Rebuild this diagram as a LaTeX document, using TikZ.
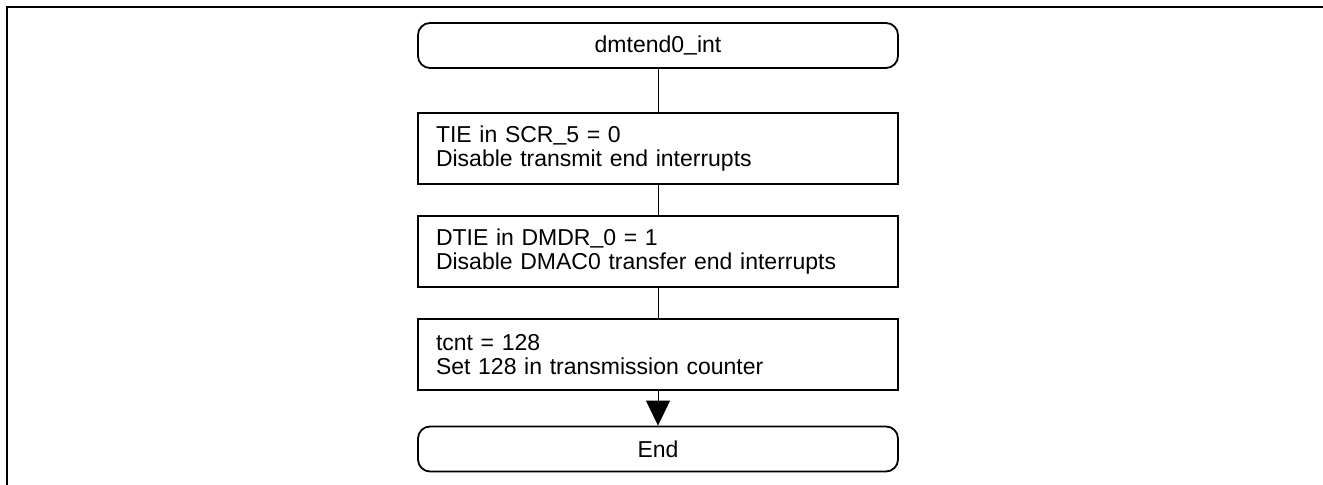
\documentclass[tikz,border=0pt]{standalone}
\usepackage{fontspec}
\setmainfont{Liberation Sans}
\usetikzlibrary{arrows.meta}
\newcommand{\us}{\raisebox{0.12em}{\_}}
\begin{document}
\begin{tikzpicture}[x=0.5pt,y=-0.5pt,
  term/.style={draw,line width=0.9pt,rounded corners=6pt,minimum width=240pt,
    minimum height=22.5pt,font=\fontsize{11.5}{11.5}\selectfont},
  proc/.style={draw,line width=0.9pt,minimum width=240pt,minimum height=35.5pt,
    text width=222pt,inner xsep=9pt,align=left,font=\fontsize{11.5}{11.6}\selectfont},
  link/.style={line width=0.5pt}]
\pgfmathsetmacro{\xc}{658}
\useasboundingbox (0,0) rectangle (1323,485);
\draw[line width=0.9pt](1323,7)--(7,7)--(7,485);
\node[term] (start) at (\xc,45.5) {dmtend0\us int};
\node[proc] (tie) at (\xc,148.5) {TIE in SCR\us 5 = 0\\Disable transmit end interrupts};
\node[proc] (dtie) at (\xc,251.5) {DTIE in DMDR\us 0 = 1\\Disable DMAC0 transfer end interrupts};
\node[proc] (tcnt) at (\xc,354.5) {tcnt = 128\\Set 128 in transmission counter};
\node[term] (end) at (\xc,449) {End};
\draw[link](start)--(tie);
\draw[link](tie)--(dtie);
\draw[link](dtie)--(tcnt);
\draw[link,-{Triangle[length=12.5pt,width=12pt]}](tcnt)--(end);
\end{tikzpicture}
\end{document}
